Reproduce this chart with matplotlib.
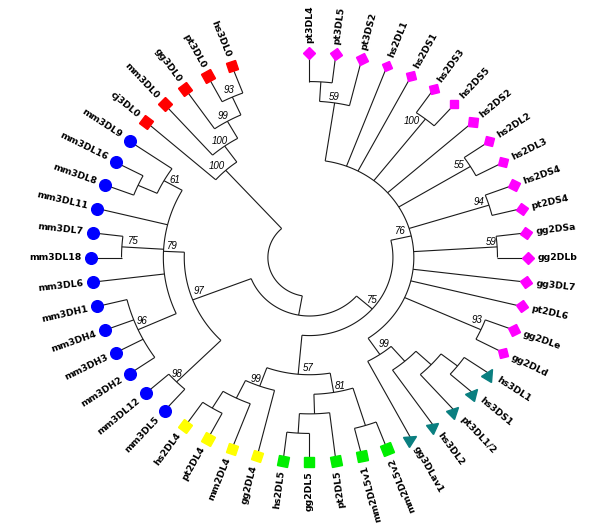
import numpy as np
import matplotlib.pyplot as plt
from matplotlib.markers import MarkerStyle
from matplotlib.transforms import Affine2D

# leaves in clockwise order, starting at the top
leaf_names = ['pt3DL4', 'pt3DL5', 'pt3DS2', 'hs2DL1', 'hs2DS1', 'hs2DS3', 'hs2DS5',
              'hs2DS2', 'hs2DL2', 'hs2DL3', 'hs2DS4', 'pt2DS4', 'gg2DSa', 'gg2DLb',
              'gg3DL7', 'pt2DL6', 'gg2DLe', 'gg2DLd', 'hs3DL1', 'hs3DS1', 'pt3DL1/2',
              'hs3DL2', 'gg3DLav1', 'mm2DL5v2', 'mm2DL5v1', 'pt2DL5', 'gg2DL5', 'hs2DL5',
              'gg2DL4', 'mm2DL4', 'pt2DL4', 'hs2DL4', 'mm3DL5', 'mm3DL12', 'mm3DH2',
              'mm3DH3', 'mm3DH4', 'mm3DH1', 'mm3DL6', 'mm3DL18', 'mm3DL7', 'mm3DL11',
              'mm3DL8', 'mm3DL16', 'mm3DL9', 'cj3DL0', 'mm3DL0', 'gg3DL0', 'pt3DL0', 'hs3DL0']
leaf_group = (['2D'] * 18 + ['3DL1/2'] * 5 + ['2DL5'] * 5 + ['2DL4'] * 4
              + ['mm3D'] * 13 + ['3DL0'] * 5)

# internal nodes (children listed clockwise), parents after their children
node_names = ['a', 'b', 'c', 'd', 'e', 'f', 'g', 'h', 'i', 'j', 'k', 'n76',
              'l', 'm', 'o', 'p', 'q', 'r', 's', 'n57', 'n75',
              't', 'u', 'v', 'w', 'x', 'n79', 'n97', 'B',
              'y', 'z', 'aa', 'bb', 'root']
node_kids = [
    ('pt3DL4', 'pt3DL5'),
    ('a', 'pt3DS2'),
    ('hs2DS3', 'hs2DS5'),
    ('hs2DL2', 'hs2DL3'),
    ('hs2DS4', 'pt2DS4'),
    ('gg2DSa', 'gg2DLb'),
    ('gg2DLe', 'gg2DLd'),
    ('hs3DL1', 'hs3DS1'),
    ('h', 'pt3DL1/2'),
    ('i', 'hs3DL2'),
    ('j', 'gg3DLav1'),
    ('b', 'hs2DL1', 'hs2DS1', 'c', 'hs2DS2', 'd', 'e', 'f', 'gg3DL7', 'pt2DL6', 'g', 'k'),
    ('mm2DL5v2', 'mm2DL5v1'),
    ('gg2DL5', 'hs2DL5'),
    ('pt2DL5', 'm'),
    ('l', 'o'),
    ('pt2DL4', 'hs2DL4'),
    ('mm2DL4', 'q'),
    ('gg2DL4', 'r'),
    ('p', 's'),
    ('n76', 'n57'),
    ('mm3DL5', 'mm3DL12'),
    ('mm3DH2', 'mm3DH3', 'mm3DH4', 'mm3DH1'),
    ('mm3DL18', 'mm3DL7'),
    ('mm3DL8', 'mm3DL16'),
    ('w', 'mm3DL9'),
    ('u', 'mm3DL6', 'v', 'mm3DL11', 'x'),
    ('t', 'n79'),
    ('n75', 'n97'),
    ('pt3DL0', 'hs3DL0'),
    ('gg3DL0', 'y'),
    ('mm3DL0', 'z'),
    ('cj3DL0', 'aa'),
    ('B', 'bb'),
]
node_support = ['', '59', '100', '55', '94', '59', '93', '', '', '', '99', '76',
                '', '', '', '81', '', '', '99', '57', '75',
                '98', '96', '75', '', '61', '79', '97', '',
                '93', '99', '100', '100', '']

# marker style per group: marker, extra rotation, size, colour
group_style = {
    '2D': ('s', 45, 6.0, '#ff00ff'),
    '3DL1/2': ('^', 0, 8.0, '#0a7f80'),
    '2DL5': ('s', 0, 7.4, '#00ee00'),
    '2DL4': ('s', 0, 7.0, '#ffff00'),
    'mm3D': ('o', 0, 8.4, '#0000ff'),
    '3DL0': ('s', 0, 7.0, '#ff0000'),
}

# where each support value sits relative to its node (pixels, right / down)
support_offset = {
    'y': (-3, -7), 'z': (-4, -5), 'aa': (-4.5, -5), 'bb': (-9, -4),
    'x': (11, -1), 'v': (11, -6), 'n79': (9, -5), 'n97': (6, -9),
    'u': (4, -9), 't': (0, -8), 's': (-4, -7), 'n57': (10, -6),
    'p': (6, -6), 'n75': (0, -9), 'k': (4, -10), 'g': (-3.5, -10),
    'n76': (-11, -5), 'f': (-6, -4.5), 'e': (-9.5, -3.5), 'd': (-11, -1),
    'c': (-14, 2), 'b': (0, -6),
}

# layout: equal angular slots, radius from node height
step = 360 / 52
ang = {n: 90 - i * step for i, n in enumerate(leaf_names)}
hgt = {n: 0 for n in leaf_names}
for n, kids in zip(node_names, node_kids):
    ang[n] = (ang[kids[0]] + ang[kids[-1]]) / 2
    hgt[n] = 1 + max(hgt[k] for k in kids)


def rad(n):
    return 1.0 if hgt[n] == 0 else 0.956 - 0.0957 * hgt[n]


def pos(n, r=None):
    r = rad(n) if r is None else r
    a = np.radians(ang[n])
    return r * np.cos(a), r * np.sin(a)


fig = plt.figure(figsize=(6, 5.26), dpi=100)
ax = fig.add_axes([0, 0, 1, 1])
xlim = (-309.5 / 218.5, 290.5 / 218.5)
ylim = (-268.5 / 204.5, 257.5 / 204.5)
ax.set_xlim(xlim)
ax.set_ylim(ylim)
ax.axis('off')
sx = 600 / (xlim[1] - xlim[0])
sy = 526 / (ylim[1] - ylim[0])


def screen_angle(deg):
    a = np.radians(deg)
    return np.degrees(np.arctan2(sy * np.sin(a), sx * np.cos(a)))


lc = '#1a1a1a'
lw = 0.8
for n, kids in zip(node_names, node_kids):
    r0 = rad(n)
    t = np.radians(np.linspace(ang[kids[0]], ang[kids[-1]], 80))
    ax.plot(r0 * np.cos(t), r0 * np.sin(t), color=lc, lw=lw, solid_capstyle='butt')
    for k in kids:
        x0, y0 = pos(k, r0)
        x1, y1 = pos(k)
        ax.plot([x0, x1], [y0, y1], color=lc, lw=lw, solid_capstyle='butt')

# leaf markers and names
for n, g in zip(leaf_names, leaf_group):
    mk, rot, ms, col = group_style[g]
    phi = screen_angle(ang[n])
    style = MarkerStyle(mk, transform=Affine2D().rotate_deg(phi + rot)) if mk != 'o' else 'o'
    x, y = pos(n)
    ax.plot([x], [y], marker=style, ms=ms, color=col, mec=col, ls='none', zorder=3)
    d = 7.0
    off = (d * np.cos(np.radians(phi)), d * np.sin(np.radians(phi)))
    if ang[n] > -66:
        rot_txt, ha = phi, 'left'
    else:
        rot_txt, ha = phi + 180, 'right'
    ax.annotate(n, (x, y), xytext=off, textcoords='offset points',
                rotation=rot_txt, rotation_mode='anchor', ha=ha, va='center',
                fontsize=6.7, fontweight='bold', family='DejaVu Sans')

# support values
for n, s in zip(node_names, node_support):
    if not s:
        continue
    dx, dy = support_offset[n]
    ax.annotate(s, pos(n), xytext=(dx / 1.389, -dy / 1.389), textcoords='offset points',
                ha='center', va='center', fontsize=7, style='italic',
                family='Liberation Sans')

fig.savefig('out.png', dpi=100)
